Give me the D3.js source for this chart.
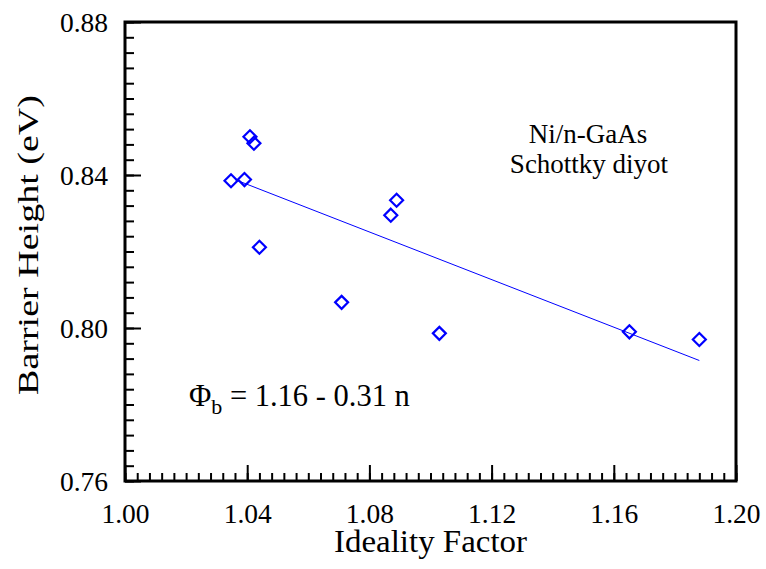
<!DOCTYPE html>
<html>
<head>
<meta charset="utf-8">
<script src="https://cdn.jsdelivr.net/npm/d3@7"></script>
<style>
body { margin: 0; background: #fff; }
svg text { font-family: "Liberation Serif", "Times New Roman", serif; fill: #000; }
</style>
</head>
<body>
<svg id="chart" width="766" height="569"></svg>
<script>
// measured points: ideality factor vs barrier height
var ideality = [1.0409, 1.0422, 1.0347, 1.0391, 1.0440, 1.0709, 1.0870, 1.0889, 1.1029, 1.1651, 1.1880]
var barrier = [0.8500, 0.8483, 0.8385, 0.8388, 0.8211, 0.8067, 0.8295, 0.8334, 0.7986, 0.7990, 0.7970]
// fit line end points
var fitX = [1.036, 1.188]
var fitY = [0.8388, 0.7915]
var xMajor = [1.00, 1.04, 1.08, 1.12, 1.16, 1.20]
var xLabels = ['1.00', '1.04', '1.08', '1.12', '1.16', '1.20']
var yMajor = [0.76, 0.80, 0.84, 0.88]
var yLabels = ['0.76', '0.80', '0.84', '0.88']
var xDomain = [1.00, 1.20],
	yDomain = [0.76, 0.88],
	minorStep = 0.004

var plotL = 125, plotR = 736, plotT = 22, plotB = 481
var blue = '#0000ff'

var svg = d3.select('#chart')

var x = d3.scaleLinear().domain(xDomain).range([plotL, plotR])
var y = d3.scaleLinear().domain(yDomain).range([plotB, plotT])

function minorTicks(domain) {
	var n = Math.round((domain[1] - domain[0]) / minorStep)
	return d3.range(n + 1).map(function(i){ return +(domain[0] + i * minorStep).toFixed(4) })
}

// minor ticks
svg.append('g')
	.attr('transform', 'translate(0,' + plotB + ')')
	.call(d3.axisBottom(x).tickValues(minorTicks(xDomain)).tickSize(-8).tickFormat(''))
svg.append('g')
	.attr('transform', 'translate(' + plotL + ',0)')
	.call(d3.axisLeft(y).tickValues(minorTicks(yDomain)).tickSize(-9).tickFormat(''))

// major ticks with labels
var xAxis = svg.append('g')
	.attr('transform', 'translate(0,' + plotB + ')')
	.call(d3.axisBottom(x).tickValues(xMajor).tickSize(-16).tickPadding(22)
		.tickFormat(function(d, i){ return xLabels[i] }))
var yAxis = svg.append('g')
	.attr('transform', 'translate(' + plotL + ',0)')
	.call(d3.axisLeft(y).tickValues(yMajor).tickSize(-16).tickPadding(17)
		.tickFormat(function(d, i){ return yLabels[i] }))

svg.selectAll('.domain').remove()
svg.selectAll('.tick line')
	.attr('stroke', '#000')
	.attr('stroke-width', 2)
svg.selectAll('g').attr('font-family', null).attr('font-size', null)
svg.selectAll('.tick text')
	.style('font-size', '27.5px')
yAxis.selectAll('.tick text').attr('dy', '0.34em')

// frame
svg.append('rect')
	.attr('x', plotL)
	.attr('y', plotT)
	.attr('width', plotR - plotL)
	.attr('height', plotB - plotT)
	.attr('fill', 'none')
	.attr('stroke', '#000')
	.attr('stroke-width', 3)

// fit line
svg.append('line')
	.attr('x1', x(fitX[0]))
	.attr('y1', y(fitY[0]))
	.attr('x2', x(fitX[1]))
	.attr('y2', y(fitY[1]))
	.attr('stroke', blue)
	.attr('stroke-width', 1)

// diamonds
var r = 6.5
svg.append('g')
	.selectAll('path')
	.data(ideality)
	.enter()
	.append('path')
	.attr('d', function(d, i){
		var cx = x(d), cy = y(barrier[i])
		return 'M' + cx + ',' + (cy - r) + 'L' + (cx + r) + ',' + cy +
			'L' + cx + ',' + (cy + r) + 'L' + (cx - r) + ',' + cy + 'Z'
	})
	.attr('fill', 'none')
	.attr('stroke', blue)
	.attr('stroke-width', 2.2)

// axis titles
svg.append('text')
	.attr('x', (plotL + plotR) / 2)
	.attr('y', 552)
	.attr('text-anchor', 'middle')
	.attr('textLength', 193)
	.attr('lengthAdjust', 'spacingAndGlyphs')
	.style('font-size', '31px')
	.text('Ideality Factor')
svg.append('text')
	.attr('transform', 'translate(38,245) rotate(-90)')
	.attr('text-anchor', 'middle')
	.attr('textLength', 300)
	.attr('lengthAdjust', 'spacingAndGlyphs')
	.style('font-size', '30px')
	.text('Barrier Height (eV)')

// annotations
svg.append('text')
	.attr('x', 588)
	.attr('y', 143)
	.attr('text-anchor', 'middle')
	.style('font-size', '27px')
	.text('Ni/n-GaAs')
svg.append('text')
	.attr('x', 589)
	.attr('y', 173)
	.attr('text-anchor', 'middle')
	.style('font-size', '27px')
	.text('Schottky diyot')

var eq = svg.append('text')
	.attr('x', 189)
	.attr('y', 406)
	.style('font-size', '30.5px')
eq.append('tspan').text('\u03a6')
eq.append('tspan').attr('dy', 8).style('font-size', '22px').text('b')
eq.append('tspan').attr('dy', -8).text(' = 1.16 - 0.31 n')
</script>
</body>
</html>
